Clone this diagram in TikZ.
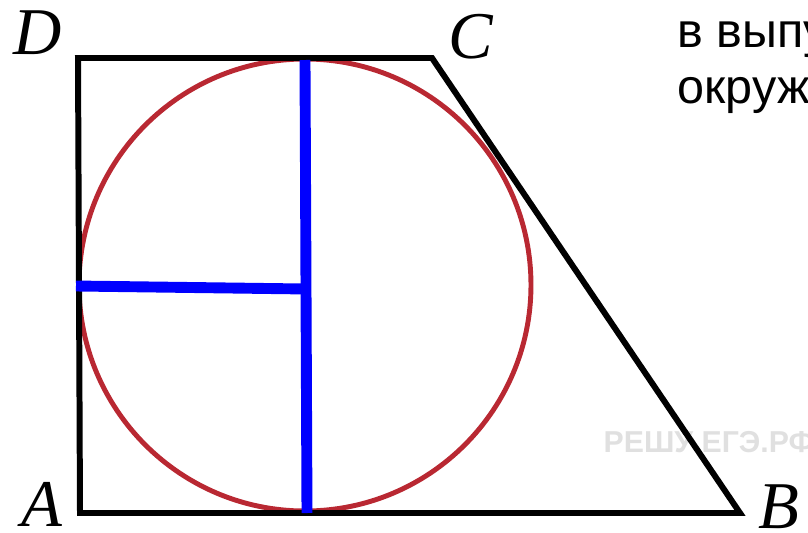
\documentclass[tikz,border=0pt]{standalone}
\usepackage{fontspec}
\setmainfont{Liberation Serif}
\newfontfamily\textsans{Liberation Sans}
\definecolor{circred}{RGB}{185,40,50}
\definecolor{segblue}{RGB}{0,0,255}

\begin{document}
\begin{tikzpicture}[x=0.01cm,y=-0.01cm,
  side/.style={line width=1.7pt,line join=miter},
  circ/.style={circred,line width=1.4pt},
  seg/.style={segblue,line width=3.1pt},
  lab/.style={font=\fontsize{19pt}{19pt}\selectfont\itshape,inner sep=0},
  txt/.style={font=\textsans\fontsize{13.8pt}{16pt}\selectfont,anchor=base west,inner sep=0},
  wmark/.style={font=\textsans\bfseries\fontsize{8.6pt}{9pt}\selectfont,text=black!12,anchor=base west,inner sep=0}]
  \useasboundingbox (0,0) rectangle (808,533);
  \clip (0,0) rectangle (808,533);

  \foreach \name/\x/\y in {A/80/513,B/740/513,C/432/58,D/78/58,O/305/285}
    \coordinate (\name) at (\x,\y);
  \foreach \name/\x/\y in {Tt/305/60,Tb/307/513,Tl/76/286,H/306/289}
    \coordinate (\name) at (\x,\y);

  % labels
  \foreach \name/\x/\y in {A/42/504,B/779/507,C/471/37,D/38/33}
    \node[lab] (l\name) at (\x,\y) {\name};

  \node[wmark] (wm) at (603,452) {РЕШУ ЕГЭ.РФ};

  \draw[circ] (O) circle (226);
  \draw[side] (A) -- (B) -- (C) -- (D) -- cycle;
  \draw[seg] (Tt) -- (Tb);
  \draw[seg] (Tl) -- (H);

  \node[txt] (t1) at (677,47) {в выпу};
  \node[txt] (t2) at (677,103) {окруж};
\end{tikzpicture}
\end{document}
